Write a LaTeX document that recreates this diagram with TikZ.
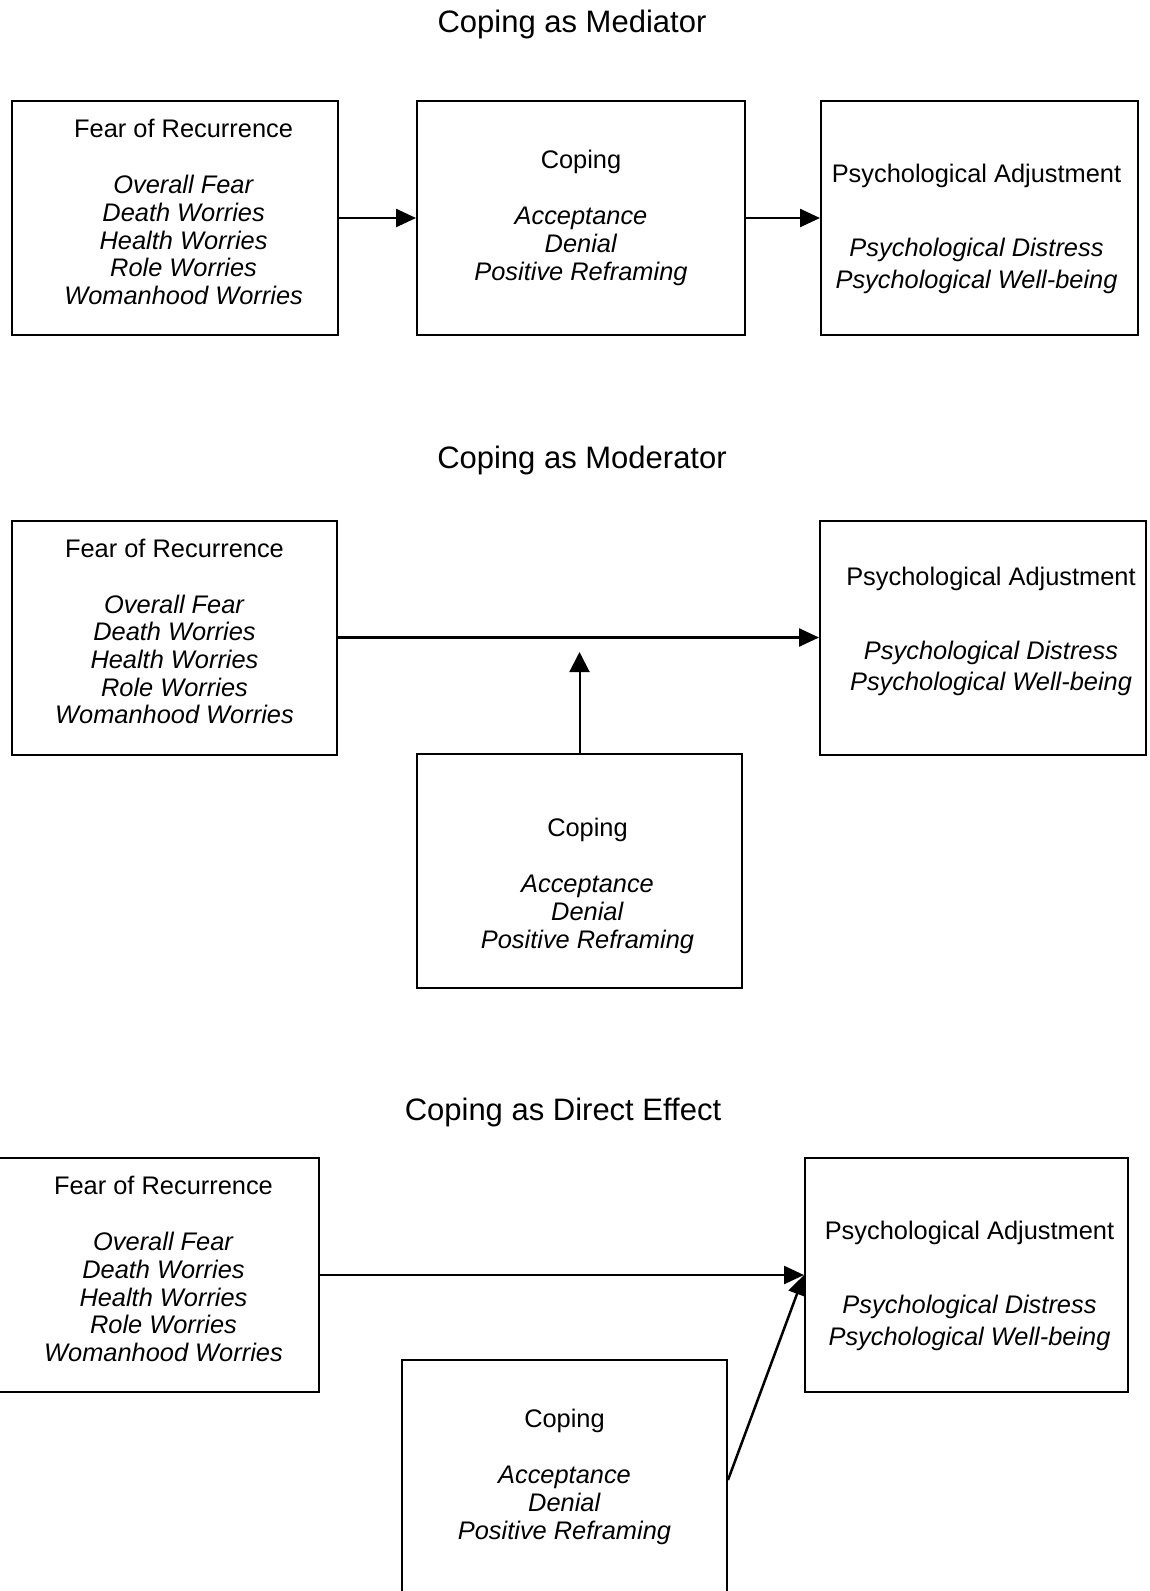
\documentclass[tikz,border=0pt]{standalone}
\usepackage{fontspec}
\setmainfont{Liberation Sans}
\usetikzlibrary{arrows.meta}

\newcommand{\fearlist}{Fear of Recurrence\\[28.4pt]\textit{Overall Fear}\\\textit{Death Worries}\\\textit{Health Worries}\\\textit{Role Worries}\\\textit{Womanhood Worries}}
\newcommand{\copelist}{Coping\\[28.4pt]\textit{Acceptance}\\\textit{Denial}\\\textit{Positive Reframing}}
\newcommand{\adjlist}{Psychological Adjustment\\[42.5pt]\textit{Psychological Distress}\\\textit{Psychological Well-being}}

\begin{document}
\begin{tikzpicture}[x=1pt,y=-1pt,
  ttl/.style={font=\fontsize{31}{37}\selectfont},
  box/.style={draw,line width=2pt,minimum height=234pt,inner sep=0pt},
  txt/.style={align=center,inner sep=0pt,font=\fontsize{25.4}{27.6}\selectfont},
  adjtxt/.style={txt,font=\fontsize{25.4}{31.5}\selectfont},
  arr/.style={line width=2.5pt,-{Triangle[length=20pt,width=18pt]}}]
\useasboundingbox (0,0) rectangle (1150,1591);

\node[ttl] (t1) at (572,24) {Coping as Mediator};
\node[box,minimum width=326pt,label={[txt,xshift=8.6pt,yshift=6pt]center:\fearlist}] (fear1) at (175,218) {};
\node[box,minimum width=328pt,label={[txt]center:\copelist}] (cope1) at (581,218) {};
\node[box,minimum width=317pt,label={[adjtxt,xshift=-3pt,yshift=-11pt]center:\adjlist}] (adj1) at (979.5,218) {};
\draw[arr] (fear1) -- (cope1);
\draw[arr] (cope1) -- (adj1);

\node[ttl] (t2) at (582,460) {Coping as Moderator};
\node[box,minimum width=325pt,label={[txt,yshift=6pt]center:\fearlist}] (fear2) at (174.5,637.5) {};
\node[box,minimum width=326pt,label={[adjtxt,xshift=8pt,yshift=6pt]center:\adjlist}] (adj2) at (983,637.5) {};
\node[box,minimum width=325pt,label={[txt,xshift=8pt,yshift=-15pt]center:\copelist}] (cope2) at (579.5,871) {};
\path (579.5,652) coordinate (M);
\draw[arr] (fear2) -- (adj2);
\draw[line width=2pt,-{Triangle[length=20pt,width=20pt]}] (cope2.north) -- (M);

\node[ttl] (t3) at (563,1112) {Coping as Direct Effect};
\node[box,minimum width=323pt,label={[txt,xshift=6pt,yshift=6pt]center:\fearlist}] (fear3) at (157.5,1275) {};
\node[box,minimum width=323pt,label={[adjtxt,xshift=3pt,yshift=-11pt]center:\adjlist}] (adj3) at (966.5,1275) {};
\node[box,minimum width=325pt,minimum height=240pt,label={[txt,yshift=3pt]center:\copelist}] (cope3) at (564.5,1480) {};
\draw[arr] (fear3) -- (adj3);
\draw[arr] (cope3.east) -- (adj3.west);
\end{tikzpicture}
\end{document}
